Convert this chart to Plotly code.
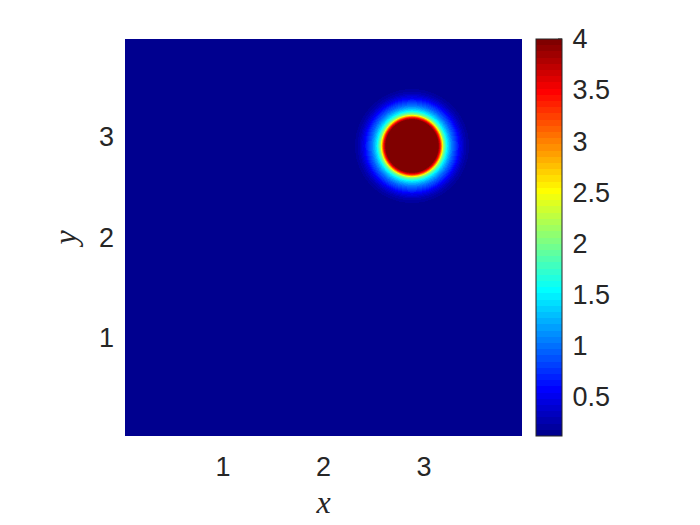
import numpy as np
import plotly.graph_objs as go

# ---- data ----
# grid limits (cell centres, pcolor-style, axis tight)
X_LIM = [0.025, 3.975]
Y_LIM = [0.025, 3.975]
GRID_STEP = 0.01

# blob centre
BLOB_X = 2.88
BLOB_Y = 2.91

# radial profile of the blob, measured from its centre
PROFILE_R = [0.0, 0.262, 0.282, 0.302, 0.316, 0.350, 0.380, 0.410, 0.450, 0.480, 0.520, 0.560, 0.620, 3.0]
PROFILE_Z = [4.2, 4.0, 3.5, 2.7, 2.1, 1.5, 1.2, 0.95, 0.7, 0.5, 0.3, 0.18, 0.12, 0.11]

Z_MIN = 0.11
Z_MAX = 4.0

CBAR_TICKS = [0.5, 1, 1.5, 2, 2.5, 3, 3.5, 4]
CBAR_LABELS = ['0.5', '1', '1.5', '2', '2.5', '3', '3.5', '4']
AXIS_TICKS = [1, 2, 3]


def matlab_jet(n=64):
    ''' discrete jet colormap as a plotly colorscale '''
    scale = []
    for i in range(n):
        t = (i + 1) / n
        r = min(max(1.5 - abs(4 * t - 3), 0), 1)
        g = min(max(1.5 - abs(4 * t - 2), 0), 1)
        b = min(max(1.5 - abs(4 * t - 1), 0), 1)
        c = f"rgb({round(r*255)},{round(g*255)},{round(b*255)})"
        scale.append([i / n, c])
        scale.append([(i + 1) / n, c])
    return scale


x = np.arange(X_LIM[0], X_LIM[1] + GRID_STEP / 2, GRID_STEP)
y = np.arange(Y_LIM[0], Y_LIM[1] + GRID_STEP / 2, GRID_STEP)
XX, YY = np.meshgrid(x, y)
rr = np.sqrt((XX - BLOB_X) ** 2 + (YY - BLOB_Y) ** 2)
z = np.interp(rr, PROFILE_R, PROFILE_Z)

FONT = 'Liberation Sans'
TXT = '#262626'
PLOT_W = 397         # px
CBAR_X = 411 / PLOT_W  # left edge of colour bar, in plot-width units
CBAR_W = 26          # px

heat = go.Heatmap(
    x=x, y=y, z=z,
    zmin=Z_MIN, zmax=Z_MAX,
    colorscale=matlab_jet(64),
    colorbar={
        'x': CBAR_X,
        'xanchor': 'left',
        'y': 0.5,
        'yanchor': 'middle',
        'len': 1.0,
        'lenmode': 'fraction',
        'thickness': CBAR_W,
        'thicknessmode': 'pixels',
        'outlinewidth': 1,
        'outlinecolor': TXT,
        'ticks': 'outside',
        'ticklen': 5,
        'tickcolor': 'rgba(0,0,0,0)',
        'tickvals': CBAR_TICKS,
        'ticktext': CBAR_LABELS,
        'tickfont': {'family': FONT, 'size': 27, 'color': TXT},
        'xpad': 0,
        'ypad': 0,
    },
)

# small inward tick marks on the right side of the colour bar
cbar_right = CBAR_X + CBAR_W / PLOT_W
shapes = []
for t in CBAR_TICKS:
    yp = (t - Z_MIN) / (Z_MAX - Z_MIN)
    shapes.append({
        'type': 'line', 'xref': 'paper', 'yref': 'paper',
        'x0': cbar_right - 4 / PLOT_W, 'x1': cbar_right,
        'y0': yp, 'y1': yp,
        'line': {'color': TXT, 'width': 1},
    })

layout = go.Layout(
    template='plotly_white',
    width=692,
    height=517,
    autosize=False,
    paper_bgcolor='white',
    plot_bgcolor='white',
    margin={'l': 117, 'r': 178, 't': 31, 'b': 89},
    shapes=shapes,
    xaxis={
        'range': X_LIM,
        'tickvals': AXIS_TICKS,
        'showgrid': False,
        'zeroline': False,
        'showline': False,
        'ticks': '',
        'ticklabelstandoff': 12,
        'tickfont': {'family': FONT, 'size': 27, 'color': TXT},
        'title': {
            'text': '<i>x</i>',
            'font': {'family': 'Liberation Serif', 'size': 32, 'color': TXT},
            'standoff': 9,
        },
    },
    yaxis={
        'range': Y_LIM,
        'tickvals': AXIS_TICKS,
        'showgrid': False,
        'zeroline': False,
        'showline': False,
        'ticks': '',
        'ticklabelstandoff': 10,
        'tickfont': {'family': FONT, 'size': 27, 'color': TXT},
        'title': {
            'text': '<i>y</i>',
            'font': {'family': 'Liberation Serif', 'size': 32, 'color': TXT},
            'standoff': 12,
        },
    },
)

fig = go.Figure(data=[heat], layout=layout)
fig.write_html("out.html")
